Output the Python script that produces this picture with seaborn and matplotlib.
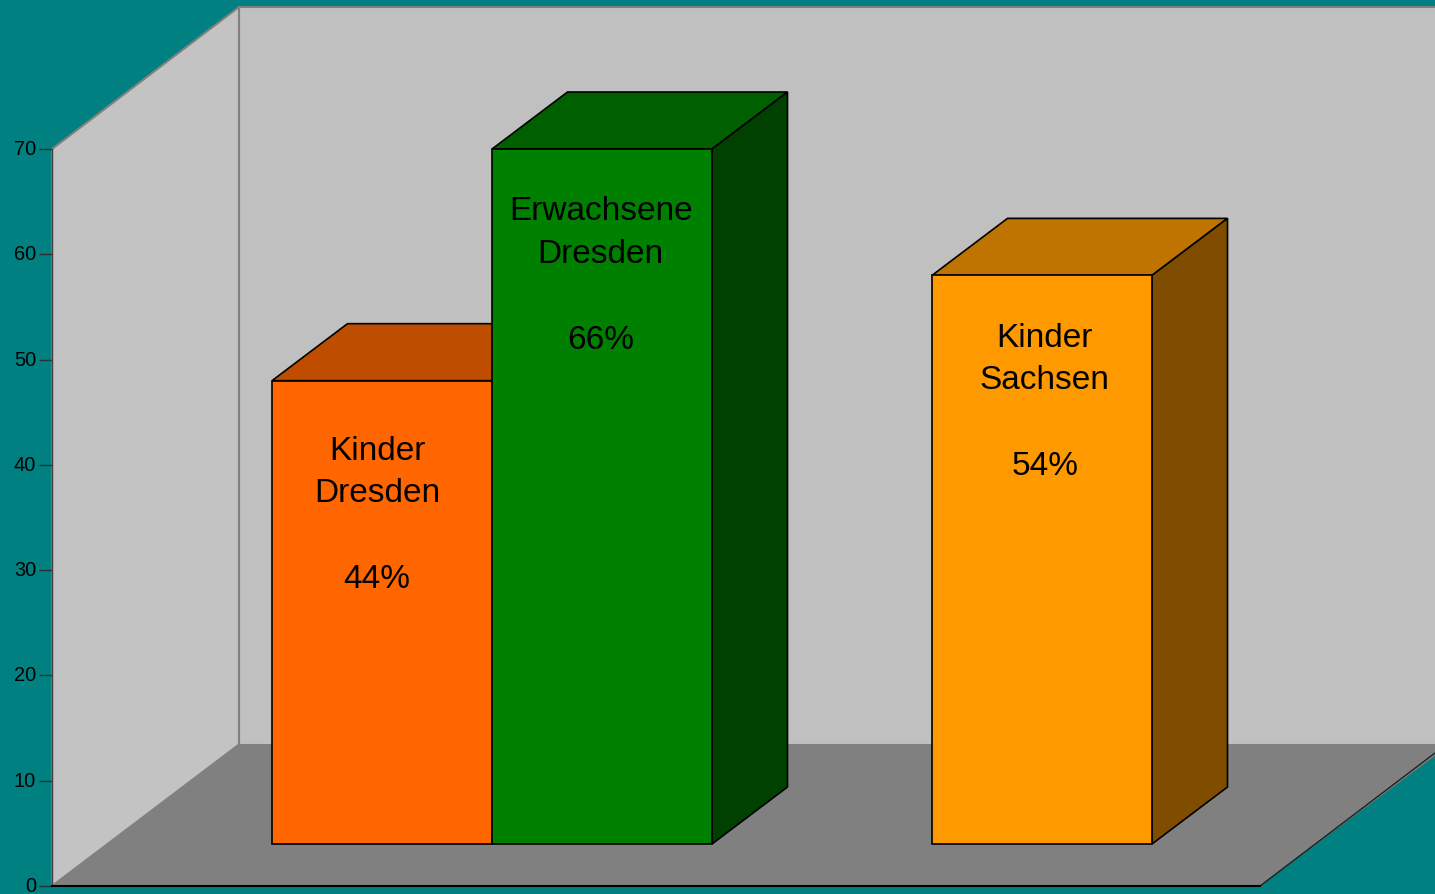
import matplotlib
matplotlib.use('Agg')
import matplotlib.pyplot as plt
from matplotlib.colors import to_rgb
from matplotlib.patches import Polygon
from matplotlib.transforms import ScaledTranslation
import seaborn as sns

# Values
labels = ['Kinder\nDresden', 'Erwachsene\nDresden', 'Kinder\nSachsen']
values = [44, 66, 54]
positions = [0, 1, 3]   # slot 2 stays empty
colors = ['#FF6600', '#008000', '#FF9900']
ticks = [0, 10, 20, 30, 40, 50, 60, 70]

W, H = 1435, 894
PX_PER_UNIT = 10.53
PX_PER_SLOT = 220
BASE_Y = 844
DEPTH_X, DEPTH_Y = 75.5, 57

sns.set_style('white')
plt.rcParams['font.family'] = ['Liberation Sans', 'DejaVu Sans']

fig = plt.figure(figsize=(W / 100, H / 100), dpi=100, facecolor='#008080')

# box walls and floor, in pixels
bg = fig.add_axes([0, 0, 1, 1], zorder=0)
bg.set_xlim(0, W)
bg.set_ylim(H, 0)
bg.axis('off')
grey = '#808080'
bg.add_patch(Polygon([(239, 7), (W + 5, 7), (W + 5, 744.5), (239, 744.5)], fc='#C0C0C0', ec=grey, lw=1.5))
bg.add_patch(Polygon([(52, 149), (239, 7), (239, 744.5), (52, 886)], fc='#C3C3C3', ec=grey, lw=1.5))
bg.add_patch(Polygon([(52, 886), (239, 744.5), (W + 5, 744.5), (W + 5, 752), (1260, 886)], fc=grey, ec='none'))
bg.plot([1260, W], [886, 753], color='#202020', lw=1)

# value axis, its own scale from 0 to 70
axis = fig.add_axes([52 / W, (H - 886) / H, (1260 - 52) / W, 737 / H], zorder=1)
axis.patch.set_alpha(0)
axis.set_xlim(0, 1)
axis.set_ylim(0, 70)
axis.set_xticks([])
axis.set_yticks(ticks)
axis.tick_params(axis='y', left=True, length=9.4, width=1, pad=2, labelsize=14.4, color='#303030', labelcolor='black')
for tick_label in axis.get_yticklabels():
    tick_label.set_transform(tick_label.get_transform() + ScaledTranslation(0, 1.5 / 100, fig.dpi_scale_trans))
sns.despine(ax=axis, top=True, right=True)
axis.spines['left'].set_color('#404040')
axis.spines['left'].set_linewidth(1)
axis.spines['bottom'].set_color('black')
axis.spines['bottom'].set_linewidth(1.5)

# bars, scale shifted so that the bar feet sit on the floor
ax = fig.add_axes([0, 0, 1, 1], zorder=2)
ax.patch.set_alpha(0)
sns.barplot(x=positions, y=values, hue=labels, hue_order=labels, palette=colors, dodge=False, saturation=1,
            native_scale=True, width=1, legend=False, edgecolor='black', linewidth=1.2, ax=ax)
ax.set_xlim(-382 / PX_PER_SLOT, (W - 382) / PX_PER_SLOT)
ax.set_ylim(-(H - BASE_Y) / PX_PER_UNIT, BASE_Y / PX_PER_UNIT)
ax.axis('off')

dx = DEPTH_X / PX_PER_SLOT
dy = DEPTH_Y / PX_PER_UNIT
text_nudge = [(-3.5, -39.5), (-1, -34), (2, -34)]
for bar, color, label, value, nudge in zip(ax.patches, colors, labels, values, text_nudge):
    x0, x1 = bar.get_x(), bar.get_x() + bar.get_width()
    top = bar.get_height()
    rgb = to_rgb(color)
    ax.add_patch(Polygon([(x0, top), (x1, top), (x1 + dx, top + dy), (x0 + dx, top + dy)],
                         fc=[c * 0.75 for c in rgb], ec='black', lw=1.2, zorder=0.5))
    ax.add_patch(Polygon([(x1, 0), (x1, top), (x1 + dx, top + dy), (x1 + dx, dy)],
                         fc=[c * 0.5 for c in rgb], ec='black', lw=1.2, zorder=0.5))
    ax.annotate(f'{label}\n\n{value}%', xy=((x0 + x1) / 2, top), xytext=nudge,
                textcoords='offset points', ha='center', va='top', fontsize=24,
                linespacing=1.49, color='black')

fig.savefig('out.png', dpi=100, facecolor=fig.get_facecolor())
